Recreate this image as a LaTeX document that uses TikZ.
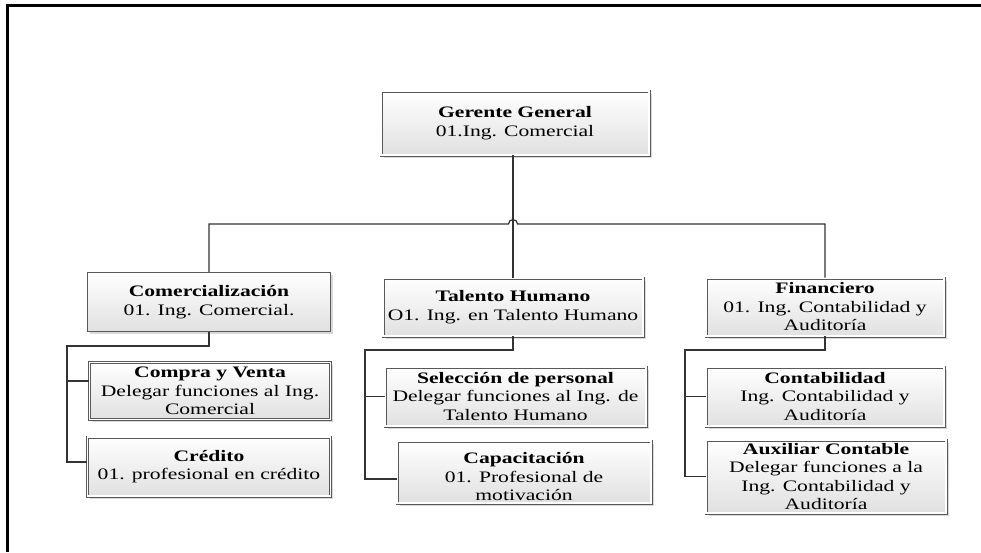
\documentclass[tikz,border=0pt]{standalone}
\usepackage{fontspec}
\setmainfont{Liberation Serif}[FakeStretch=1.35]
\usetikzlibrary{shadows,calc}
\begin{document}
\begin{tikzpicture}[x=1pt,y=-1pt,
  basebox/.style={rectangle, top color=white, bottom color=black!12,
    drop shadow={shadow xshift=2.5pt, shadow yshift=-2.5pt, fill=black!25, opacity=0.6},
    align=center, inner sep=2pt, font=\fontsize{16}{18.5}\selectfont},
  box/.style={basebox, draw=black!65, line width=0.7pt, double=white, double distance=1.6pt},
  sbox/.style={basebox, draw=black!65, line width=1.1pt},
  conn/.style={draw=black!80, line width=1.2pt},
  frame/.style={draw=black, line width=3pt}]
\useasboundingbox (0,0) rectangle (981,552);
\draw[frame] (7,552) -- (7,5) -- (981,5);

\node[box, minimum width=268pt, minimum height=64pt] (gg) at (515,123) {\textbf{Gerente General}\\01.Ing. Comercial};
\node[sbox, minimum width=243pt, minimum height=59pt] (com) at (209,302) {\textbf{Comercialización}\\01. Ing. Comercial.};
\node[box, minimum width=260pt, minimum height=58pt] (th) at (513,307) {\textbf{Talento Humano}\\O1. Ing. en Talento Humano};
\node[box, minimum width=238pt, minimum height=58pt] (fin) at (825,307) {\textbf{Financiero}\\01. Ing. Contabilidad y\\Auditoría};
\node[box, minimum width=241pt, minimum height=57pt] (cv) at (210,391) {\textbf{Compra y Venta}\\Delegar funciones al Ing.\\Comercial};
\node[box, minimum width=243pt, minimum height=59pt] (cr) at (209,466.5) {\textbf{Crédito}\\01. profesional en crédito};
\node[box, minimum width=261pt, minimum height=59pt] (sel) at (515.5,396.5) {\textbf{Selección de personal}\\Delegar funciones al Ing. de\\Talento Humano};
\node[box, minimum width=254pt, minimum height=62pt] (cap) at (524,472) {\raisebox{-11pt}[0pt][0pt]{\begin{tabular}{@{}c@{}}\textbf{Capacitación}\\01. Profesional de\\motivación\end{tabular}}};
\node[box, minimum width=238pt, minimum height=59pt] (cont) at (825,396.5) {\textbf{Contabilidad}\\Ing. Contabilidad y\\Auditoría};
\node[box, minimum width=240pt, minimum height=73pt] (aux) at (826,476.5) {\textbf{Auxiliar Contable}\\Delegar funciones a la\\Ing. Contabilidad y\\Auditoría};

% top level bus
\coordinate (bus) at (0,224);
\coordinate (hopL) at ($(th.north |- bus)+(-4.5,0)$);
\draw[conn] (th.north |- gg.south) -- (th.north);
\draw[conn] (com.north) -- (com.north |- bus) -- (hopL) arc[start angle=180, end angle=360, radius=4.5] -- (fin.north |- bus) -- (fin.north);

% left branch
\coordinate (lj) at (67,346);
\coordinate (cvb) at ($(cv.west)+(0,-10)$);
\coordinate (crb) at ($(cr.west)+(0,-4.5)$);
\draw[conn] (com.south) |- (lj) |- (crb);
\draw[conn] (lj |- cvb) -- (cvb);

% middle branch
\coordinate (mj) at (365,350);
\coordinate (capb) at ($(cap.west)+(0,7)$);
\draw[conn] (th.south) |- (mj) |- (capb);
\draw[conn] (mj |- sel.west) -- (sel.west);

% right branch
\coordinate (rj) at (685,350);
\draw[conn] (fin.south) |- (rj) |- (aux.west);
\draw[conn] (rj |- cont.west) -- (cont.west);
\end{tikzpicture}
\end{document}
